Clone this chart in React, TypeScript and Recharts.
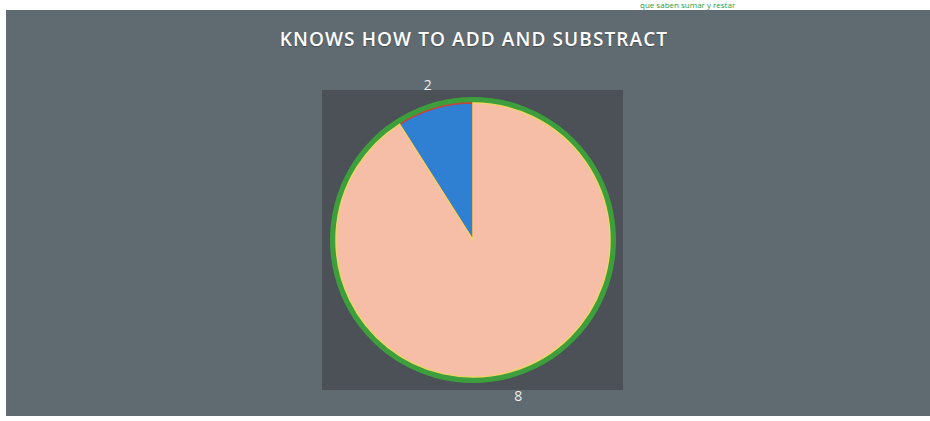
import { PieChart, Pie, Cell } from 'recharts';

// slice labels as printed on the chart
const sliceNames = ['No', 'Yes'];
const sliceLabels = ['2', '8'];
// share of the circle each slice covers (%)
const sliceShares = [9, 91];
const sliceColors = ['#2f7fd2', '#f6bea6'];
const sliceStrokes = ['#c8423a', '#efd46a'];

const pieData = sliceNames.map((name, i) => ({
  name,
  value: sliceShares[i],
  label: sliceLabels[i],
}));

const ringData = [{ name: 'ring', value: 1 }];

const RAD = Math.PI / 180;

function renderLabel(props: any) {
  const { cx, cy, midAngle, outerRadius, payload } = props;
  const r = outerRadius + 25;
  const x = cx + r * Math.cos(-midAngle * RAD);
  const y = cy + r * Math.sin(-midAngle * RAD);
  return (
    <text
      x={x}
      y={y}
      fill="#eeeeee"
      fontSize={14}
      fontFamily="Open Sans, sans-serif"
      textAnchor="middle"
      dominantBaseline="central"
    >
      {payload.label}
    </text>
  );
}

export default function App() {
  return (
    <div
      style={{
        position: 'fixed',
        left: 0,
        top: 0,
        width: 930,
        height: 421,
        background: '#ffffff',
        overflow: 'hidden',
        fontFamily: 'Open Sans, sans-serif',
      }}
    >
      <div
        style={{
          position: 'absolute',
          top: 0,
          left: 640,
          color: '#2e9a3e',
          fontSize: 8,
          lineHeight: '9px',
          whiteSpace: 'nowrap',
        }}
      >
        que saben sumar y restar
      </div>
      <div
        style={{
          position: 'absolute',
          left: 6,
          top: 10,
          width: 924,
          height: 406,
          background: '#606a71',
        }}
      />
      <div
        style={{
          position: 'absolute',
          left: 322,
          top: 90,
          width: 301,
          height: 300,
          background: '#4b5157',
        }}
      />
      <div
        style={{
          position: 'absolute',
          top: 26,
          left: 9,
          width: 930,
          textAlign: 'center',
          color: '#ffffff',
          fontSize: 19,
          fontWeight: 600,
          letterSpacing: 1.1,
          textShadow: '0 1px 1px rgba(0,0,0,0.3)',
        }}
      >
        KNOWS HOW TO ADD AND SUBSTRACT
      </div>
      <div style={{ position: 'absolute', left: 0, top: 0 }}>
        <PieChart width={930} height={421}>
          <Pie
            data={ringData}
            dataKey="value"
            cx={468}
            cy={235}
            outerRadius={143}
            innerRadius={0}
            fill="#3c9f3c"
            stroke="none"
            isAnimationActive={false}
          />
          <Pie
            data={pieData}
            dataKey="value"
            cx={468}
            cy={235}
            outerRadius={137}
            startAngle={90}
            endAngle={450}
            strokeWidth={1.5}
            label={renderLabel}
            labelLine={false}
            isAnimationActive={false}
          >
            {pieData.map((d, i) => (
              <Cell key={d.name} fill={sliceColors[i]} stroke={sliceStrokes[i]} />
            ))}
          </Pie>
        </PieChart>
      </div>
    </div>
  );
}
